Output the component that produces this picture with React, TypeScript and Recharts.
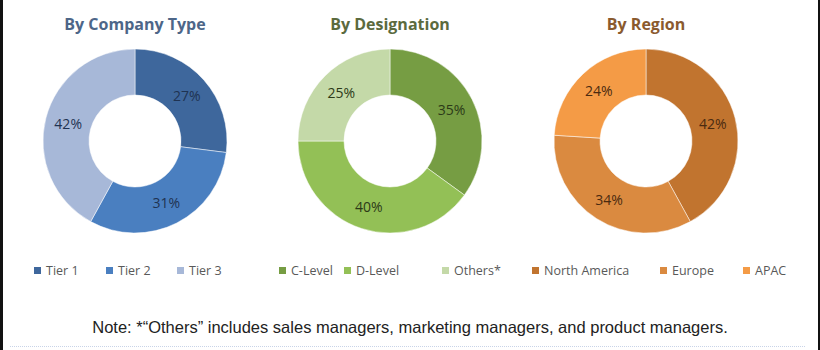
import React from "react";
import { PieChart, Pie, Cell } from "recharts";

const companyTypes = ["Tier 1", "Tier 2", "Tier 3"];
const companyValues = [27, 31, 42];
const designations = ["C-Level", "D-Level", "Others*"];
const designationValues = [35, 40, 25];
const regions = ["North America", "Europe", "APAC"];
const regionValues = [42, 34, 24];

const titles = ["By Company Type", "By Designation", "By Region"];
const note = "Note: *\u201cOthers\u201d  includes sales managers, marketing managers, and product managers.";

const blueColors = ["#3e679c", "#4a7fc0", "#a7b8d8"];
const greenColors = ["#769d43", "#93c056", "#c4d9a8"];
const orangeColors = ["#c1742f", "#da8a40", "#f49b46"];

const groups = [
  { title: titles[0], names: companyTypes, values: companyValues, colors: blueColors, titleColor: "#4d6688", labelColor: "#1f3352", cx: 135, legendX: [34, 106, 177] },
  { title: titles[1], names: designations, values: designationValues, colors: greenColors, titleColor: "#5b6a3e", labelColor: "#2c3a18", cx: 390, legendX: [279, 344, 442] },
  { title: titles[2], names: regions, values: regionValues, colors: orangeColors, titleColor: "#8a5a2e", labelColor: "#4a2a10", cx: 646, legendX: [532, 660, 743] },
];

const RADIAN = Math.PI / 180;

const makeLabel = (color: string) => (props: any) => {
  const { cx, cy, midAngle, innerRadius, outerRadius, value } = props;
  const r = (innerRadius + outerRadius) / 2;
  const x = cx + r * Math.cos(-midAngle * RADIAN);
  const y = cy + r * Math.sin(-midAngle * RADIAN);
  return (
    <text x={x} y={y} fill={color} textAnchor="middle" dominantBaseline="central" fontSize={14} fontFamily="'Open Sans', sans-serif">
      {value}%
    </text>
  );
};

export default function App() {
  return (
    <div style={{ position: "absolute", left: 0, top: 0, width: 820, height: 350, background: "#fff", overflow: "hidden" }}>
      <div style={{ position: "absolute", left: 0, top: 0, width: 3, height: 350, background: "#111" }} />
      <div style={{ position: "absolute", right: 0, top: 0, width: 2, height: 350, background: "#111" }} />
      <PieChart width={820} height={350} margin={{ top: 0, right: 0, bottom: 0, left: 0 }} style={{ position: "absolute", left: 0, top: 0 }}>
        {groups.map((g, gi) => (
          <Pie
            key={gi}
            data={g.names.map((n, i) => ({ name: n, value: g.values[i] }))}
            dataKey="value"
            nameKey="name"
            cx={g.cx}
            cy={141}
            innerRadius={46}
            outerRadius={92}
            startAngle={90}
            endAngle={-270}
            stroke="#ffffff"
            strokeWidth={0.5}
            label={makeLabel(g.labelColor)}
            labelLine={false}
            isAnimationActive={false}
          >
            {g.names.map((n, i) => (
              <Cell key={n} fill={g.colors[i]} />
            ))}
          </Pie>
        ))}
      </PieChart>
      {groups.map((g, gi) => (
        <div key={"t" + gi} style={{ position: "absolute", left: g.cx - 120, width: 240, top: 13, textAlign: "center", fontFamily: "'Open Sans', sans-serif", fontWeight: 700, fontSize: 16, color: g.titleColor }}>
          {g.title}
        </div>
      ))}
      {groups.map((g, gi) =>
        g.names.map((n, i) => (
          <div key={"l" + gi + i} style={{ position: "absolute", left: g.legendX[i], top: 262, display: "flex", alignItems: "center", fontFamily: "'Open Sans', sans-serif", fontSize: 12.5, color: "#595959", whiteSpace: "nowrap" }}>
            <span style={{ display: "inline-block", width: 7, height: 7, background: g.colors[i], marginRight: 5 }} />
            {n}
          </div>
        ))
      )}
      <div style={{ position: "absolute", left: 0, width: 820, top: 318, textAlign: "center", fontFamily: "'Liberation Sans', Arial, sans-serif", fontSize: 16.5, color: "#222" }}>
        {note}
      </div>
      <div style={{ position: "absolute", left: 10, width: 795, top: 346, borderTop: "1px dotted #c9d4e8" }} />
    </div>
  );
}
